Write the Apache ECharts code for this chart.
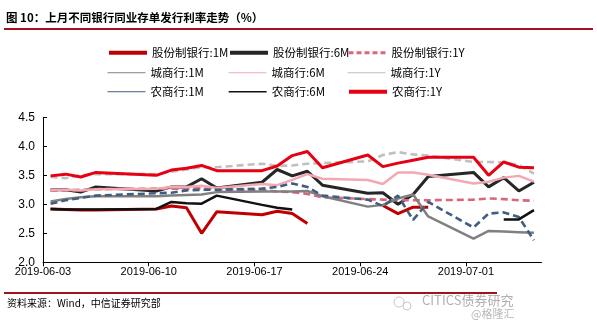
<!DOCTYPE html>
<html>
<head>
<meta charset="utf-8">
<script src="https://cdn.jsdelivr.net/npm/echarts@6/dist/echarts.min.js"></script>
<style>
html,body{margin:0;padding:0;background:#fff;}
#c{width:597px;height:327px;}
</style>
</head>
<body>
<div id="c"></div>
<script>
// ---- data ----
const dates = ['2019-06-03','2019-06-04','2019-06-05','2019-06-06','2019-06-10','2019-06-11','2019-06-12','2019-06-13','2019-06-14',
  '2019-06-17','2019-06-18','2019-06-19','2019-06-20','2019-06-21','2019-06-24','2019-06-25','2019-06-26','2019-06-27','2019-06-28',
  '2019-07-01','2019-07-02','2019-07-03','2019-07-04','2019-07-05'];
const axisStart = '2019-06-03';
const axisDays = 33;
const tickDays = [0, 7, 14, 21, 28];
const yTicks = [2.0, 2.5, 3.0, 3.5, 4.0, 4.5];

const gfz1M = [2.92,2.91,2.90,2.90,2.92,2.97,2.94,2.50,2.87,2.82,2.88,2.84,2.67,null,null,2.98,2.84,2.95,2.95,null,null,null,null,null];
const gfz6M = [3.25,3.25,3.21,3.30,3.23,3.30,3.30,3.44,3.28,3.38,3.60,3.49,3.57,3.33,3.19,3.20,3.00,3.17,3.48,3.55,3.30,3.46,3.23,3.38];
const gfz1Y = [3.24,3.24,3.25,3.26,3.27,3.27,3.27,3.28,3.26,3.25,3.22,3.21,3.18,3.12,3.09,3.08,3.07,3.07,3.07,3.08,3.10,3.09,3.07,3.06];
const csh1M = [3.05,3.09,3.12,3.14,3.14,3.15,3.16,3.17,3.21,3.22,3.22,3.22,3.23,3.14,2.96,2.99,3.10,3.17,2.79,2.41,2.54,2.53,2.52,2.51];
const csh6M = [3.25,3.25,3.24,3.26,3.27,3.30,3.30,3.32,3.28,3.35,3.33,3.42,3.52,3.44,3.42,3.35,3.55,3.55,3.51,3.36,3.39,3.46,3.49,3.39];
const csh1Y = [3.47,3.45,3.50,3.52,3.52,3.56,3.60,3.64,3.64,3.70,3.66,3.67,3.70,3.71,3.74,3.85,3.90,3.86,3.84,3.73,3.73,3.72,3.68,3.53];
const nsh1M = [3.01,3.07,3.11,3.15,3.19,3.20,3.24,3.25,3.25,3.27,3.30,3.36,3.30,3.15,3.08,2.97,3.15,2.73,3.04,2.60,2.84,2.86,2.78,2.38];
const nsh6M = [2.92,2.91,2.91,2.91,2.92,3.04,3.02,3.01,3.15,2.99,2.94,2.91,null,null,null,null,null,null,null,null,null,2.74,2.74,2.90];
const nsh1Y = [3.49,3.52,3.47,3.55,3.50,3.59,3.62,3.67,3.58,3.58,3.66,3.84,3.91,3.63,3.85,3.65,3.71,3.76,3.81,3.81,3.50,3.73,3.64,3.63];

const names = ['股份制银行:1M','股份制银行:6M','股份制银行:1Y','城商行:1M','城商行:6M','城商行:1Y','农商行:1M','农商行:6M','农商行:1Y'];
const values = [gfz1M, gfz6M, gfz1Y, csh1M, csh6M, csh1Y, nsh1M, nsh6M, nsh1Y];

// ---- styles ----
const colors = ['#C00000','#262626','#D9677C','#808080','#F2A9B2','#BFBFBF','#3F5F80','#111111','#E60012'];
const widths = [3, 3, 2.6, 2.5, 2.5, 2.6, 2.6, 2.5, 3];
const dashed = [false,false,true,false,false,true,true,false,false];
const legendW = [4, 4, 3, 1, 1, 1, 1, 1.3, 4];
const legendPos = [[107,47],[228,47],[347,47],[107,67],[228,67],[347,67],[107,86],[228,86],[347,86]];

const DAY = 86400000;
function dayIndex(s){ const p = s.split('-').map(Number); return Date.UTC(p[0],p[1]-1,p[2]); }
const t0 = dayIndex(axisStart);
function fmtDay(v){
  const d = new Date(t0 + v*DAY);
  const m = d.getUTCMonth()+1, dd = d.getUTCDate();
  return d.getUTCFullYear() + '-' + (m<10?'0':'') + m + '-' + (dd<10?'0':'') + dd;
}

const series = names.map((n,k)=>({
  name: n, type: 'line', symbol: 'none', smooth: false, connectNulls: false,
  data: dates.map((d,i)=>[(dayIndex(d)-t0)/DAY + 0.5, values[k][i]==null ? '-' : values[k][i]]),
  lineStyle: {color: colors[k], width: widths[k], type: dashed[k] ? [7,4] : 'solid', cap: 'butt'},
  itemStyle: {color: colors[k]},
  z: 2 + k
}));

const legends = names.map((n,k)=>({
  data: [n], left: legendPos[k][0], top: legendPos[k][1], padding: 0,
  itemWidth: 38, itemHeight: 14, itemGap: 0, selectedMode: false,
  textStyle: {fontFamily: 'Noto Sans CJK SC', fontSize: 11.5, color: '#000'},
  itemStyle: {opacity: 0},
  lineStyle: {width: legendW[k], type: (k===2) ? [5,3] : 'solid', opacity: 1}
}));

const chart = echarts.init(document.getElementById('c'), null, {renderer: 'canvas'});
chart.setOption({
  animation: false,
  backgroundColor: '#fff',
  legend: legends,
  grid: {left: 43, right: 55.5, top: 117.3, bottom: 64.7, containLabel: false, outerBoundsMode: 'none'},
  xAxis: {
    type: 'value', min: 0, max: axisDays, interval: 7,
    axisLine: {show: true, lineStyle: {color: '#000', width: 1}},
    axisTick: {show: true, length: 4, inside: false, lineStyle: {color: '#000'}, customValues: tickDays},
    axisLabel: {customValues: tickDays, formatter: v => fmtDay(v), fontFamily: 'Liberation Sans, Arial', fontSize: 11, color: '#000', margin: 4},
    splitLine: {show: false}
  },
  yAxis: {
    type: 'value', min: yTicks[0], max: yTicks[yTicks.length-1], interval: 0.5,
    axisLine: {show: true, lineStyle: {color: '#000', width: 1}},
    axisTick: {show: true, inside: true, length: 4, lineStyle: {color: '#000'}},
    axisLabel: {formatter: v => v.toFixed(1), fontFamily: 'Liberation Sans, Arial', fontSize: 12, color: '#000', margin: 8},
    splitLine: {show: false}
  },
  graphic: [
    {type: 'text', left: 6, top: 12, style: {text: '图 10：上月不同银行同业存单发行利率走势（%）', fontFamily: 'Noto Sans CJK SC', fontSize: 11.5, fontWeight: 'bold', fill: '#000'}},
    {type: 'line', shape: {x1: 4, y1: 29, x2: 593, y2: 29}, style: {stroke: '#A50F1E', lineWidth: 2}},
    {type: 'line', shape: {x1: 4, y1: 293, x2: 497, y2: 293}, style: {stroke: '#A50F1E', lineWidth: 2}},
    {type: 'text', left: 7, top: 298, style: {text: '资料来源：Wind，中信证券研究部', fontFamily: 'Noto Sans CJK SC', fontSize: 10, fill: '#000'}},
    {type: 'circle', shape: {cx: 399, cy: 302, r: 5}, style: {fill: 'none', stroke: '#c8c8c8', lineWidth: 1}},
    {type: 'circle', shape: {cx: 407, cy: 306, r: 4}, style: {fill: 'none', stroke: '#c8c8c8', lineWidth: 1}},
    {type: 'text', left: 422, top: 294, style: {text: 'CITICS债券研究', fontFamily: 'Noto Sans CJK SC', fontSize: 13, fill: '#b0b0b0'}},
    {type: 'text', left: 471, top: 308, style: {text: '@格隆汇', fontFamily: 'Noto Sans CJK SC', fontSize: 11, fill: '#b8b8b8'}}
  ],
  series: series
});
</script>
</body>
</html>
